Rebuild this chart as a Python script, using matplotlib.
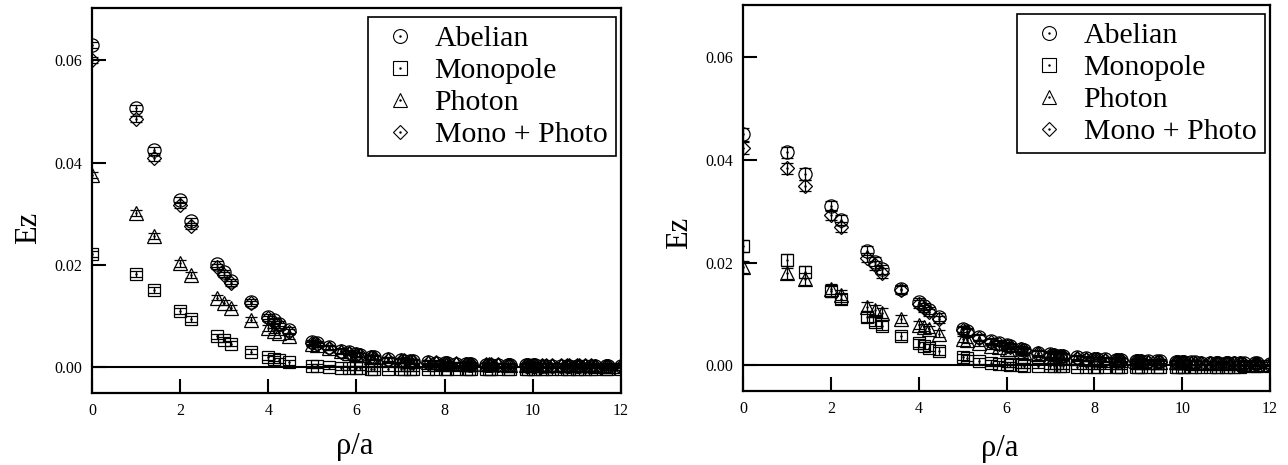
import matplotlib
matplotlib.use("Agg")
import matplotlib.pyplot as plt
from matplotlib.lines import Line2D

plt.rcParams['font.family'] = ['Liberation Serif', 'DejaVu Serif']
plt.rcParams['mathtext.fontset'] = 'stix'

# distances rho/a (2D lattice distances)
rho = [0, 1, 1.414, 2, 2.236, 2.828, 3, 3.162, 3.606, 4,
       4.123, 4.243, 4.472, 5, 5.099, 5.385, 5.657, 5.831, 6, 6.083,
       6.325, 6.403, 6.708, 7, 7.071, 7.211, 7.280, 7.616, 7.810, 8,
       8.062, 8.246, 8.485, 8.544, 8.602, 8.944, 9, 9.055, 9.220, 9.434,
       9.487, 9.849, 9.899, 10, 10.050, 10.198, 10.296, 10.440, 10.630, 10.770,
       10.817, 11, 11.045, 11.180, 11.314, 11.402, 11.662, 11.705, 12]

series_names = ["Abelian", "Monopole", "Photon", "Mono + Photo"]

# ---- left panel ----
left_abelian = [0.0630, 0.0506, 0.0424, 0.0327, 0.0285, 0.0202, 0.0186, 0.0168, 0.0128, 0.0099,
                0.0092, 0.0085, 0.0073, 0.0050, 0.0048, 0.0040, 0.0033, 0.0030, 0.0026, 0.0025,
                0.0021, 0.0020, 0.0016, 0.0014, 0.0013, 0.0012, 0.0012, 0.0010, 0.0009, 0.0008,
                0.0008, 0.0007, 0.0006, 0.0006, 0.0006, 0.0005, 0.0005, 0.0005, 0.0005, 0.0004,
                0.0004, 0.0004, 0.0004, 0.0004, 0.0004, 0.0003, 0.0003, 0.0003, 0.0003, 0.0003,
                0.0003, 0.0003, 0.0003, 0.0003, 0.0003, 0.0002, 0.0002, 0.0002, 0.0002]
left_monopole = [0.0222, 0.0182, 0.0152, 0.0110, 0.0094, 0.0061, 0.0054, 0.0046, 0.0031, 0.0020,
                 0.0017, 0.0014, 0.0010, 0.0003, 0.0003, 0.0001, -0.0001, -0.0001, -0.0002, -0.0002,
                 -0.0003, -0.0003, -0.0003, -0.0004, -0.0004, -0.0004, -0.0004, -0.0004, -0.0004, -0.0004,
                 -0.0004, -0.0004, -0.0004, -0.0004, -0.0004, -0.0004, -0.0004, -0.0004, -0.0004, -0.0004,
                 -0.0004, -0.0004, -0.0004, -0.0004, -0.0004, -0.0004, -0.0004, -0.0004, -0.0004, -0.0004,
                 -0.0004, -0.0004, -0.0004, -0.0004, -0.0004, -0.0004, -0.0003, -0.0003, -0.0003]
left_photon = [0.0376, 0.0301, 0.0256, 0.0203, 0.0181, 0.0136, 0.0126, 0.0117, 0.0093, 0.0077,
               0.0072, 0.0068, 0.0061, 0.0046, 0.0044, 0.0038, 0.0032, 0.0029, 0.0026, 0.0025,
               0.0021, 0.0020, 0.0017, 0.0015, 0.0014, 0.0013, 0.0013, 0.0011, 0.0010, 0.0009,
               0.0009, 0.0008, 0.0007, 0.0007, 0.0007, 0.0006, 0.0006, 0.0006, 0.0006, 0.0005,
               0.0005, 0.0005, 0.0005, 0.0005, 0.0005, 0.0004, 0.0004, 0.0004, 0.0004, 0.0004,
               0.0004, 0.0004, 0.0004, 0.0004, 0.0004, 0.0003, 0.0003, 0.0003, 0.0003]
left_monophoto = [0.0601, 0.0486, 0.0409, 0.0317, 0.0277, 0.0197, 0.0181, 0.0164, 0.0125, 0.0096,
                  0.0089, 0.0082, 0.0070, 0.0048, 0.0046, 0.0038, 0.0031, 0.0028, 0.0025, 0.0024,
                  0.0020, 0.0019, 0.0015, 0.0013, 0.0012, 0.0011, 0.0011, 0.0009, 0.0008, 0.0007,
                  0.0007, 0.0006, 0.0006, 0.0005, 0.0005, 0.0005, 0.0004, 0.0004, 0.0004, 0.0004,
                  0.0004, 0.0003, 0.0003, 0.0003, 0.0003, 0.0003, 0.0003, 0.0003, 0.0003, 0.0002,
                  0.0002, 0.0002, 0.0002, 0.0002, 0.0002, 0.0002, 0.0002, 0.0002, 0.0002]
left_err = [0.0006, 0.0006, 0.0006, 0.0006, 0.0006, 0.0005, 0.0005, 0.0005, 0.0005, 0.0005,
            0.0005, 0.0005, 0.0005, 0.0004, 0.0004, 0.0004, 0.0004, 0.0004, 0.0004, 0.0004,
            0.0004, 0.0004, 0.0004, 0.0004, 0.0004, 0.0004, 0.0004, 0.0004, 0.0004, 0.0004,
            0.0003, 0.0003, 0.0003, 0.0003, 0.0003, 0.0003, 0.0003, 0.0003, 0.0003, 0.0003,
            0.0003, 0.0003, 0.0003, 0.0003, 0.0003, 0.0003, 0.0003, 0.0003, 0.0003, 0.0003,
            0.0003, 0.0003, 0.0003, 0.0003, 0.0003, 0.0003, 0.0003, 0.0003, 0.0003]

# ---- right panel ----
right_abelian = [0.0450, 0.0415, 0.0373, 0.0310, 0.0283, 0.0223, 0.0202, 0.0187, 0.0149, 0.0124,
                 0.0115, 0.0107, 0.0094, 0.0071, 0.0066, 0.0056, 0.0048, 0.0044, 0.0040, 0.0038,
                 0.0032, 0.0030, 0.0025, 0.0022, 0.0021, 0.0019, 0.0019, 0.0016, 0.0014, 0.0013,
                 0.0013, 0.0012, 0.0011, 0.0011, 0.0011, 0.0009, 0.0009, 0.0009, 0.0008, 0.0008,
                 0.0008, 0.0007, 0.0007, 0.0006, 0.0006, 0.0006, 0.0006, 0.0005, 0.0005, 0.0005,
                 0.0005, 0.0005, 0.0005, 0.0005, 0.0004, 0.0004, 0.0004, 0.0004, 0.0002]
right_monopole = [0.0232, 0.0205, 0.0182, 0.0144, 0.0129, 0.0094, 0.0085, 0.0077, 0.0057, 0.0043,
                  0.0038, 0.0034, 0.0028, 0.0016, 0.0014, 0.0009, 0.0005, 0.0003, 0.0002, 0.0001,
                  0.0000, -0.0001, -0.0001, -0.0002, -0.0002, -0.0002, -0.0002, -0.0003, -0.0003, -0.0003,
                  -0.0003, -0.0003, -0.0003, -0.0003, -0.0003, -0.0003, -0.0003, -0.0003, -0.0003, -0.0003,
                  -0.0003, -0.0003, -0.0003, -0.0003, -0.0003, -0.0003, -0.0003, -0.0003, -0.0003, -0.0003,
                  -0.0003, -0.0003, -0.0003, -0.0003, -0.0003, -0.0002, -0.0002, -0.0002, -0.0002]
right_photon = [0.0191, 0.0179, 0.0168, 0.0148, 0.0137, 0.0114, 0.0108, 0.0102, 0.0090, 0.0078,
                0.0074, 0.0070, 0.0062, 0.0051, 0.0049, 0.0044, 0.0038, 0.0035, 0.0032, 0.0031,
                0.0027, 0.0026, 0.0022, 0.0019, 0.0018, 0.0017, 0.0017, 0.0014, 0.0013, 0.0012,
                0.0012, 0.0011, 0.0010, 0.0010, 0.0010, 0.0008, 0.0008, 0.0008, 0.0007, 0.0007,
                0.0007, 0.0006, 0.0006, 0.0006, 0.0006, 0.0005, 0.0005, 0.0005, 0.0005, 0.0004,
                0.0004, 0.0004, 0.0004, 0.0004, 0.0004, 0.0003, 0.0003, 0.0003, 0.0002]
right_monophoto = [0.0423, 0.0384, 0.0350, 0.0293, 0.0270, 0.0210, 0.0195, 0.0180, 0.0146, 0.0120,
                   0.0111, 0.0103, 0.0090, 0.0068, 0.0064, 0.0054, 0.0046, 0.0042, 0.0038, 0.0036,
                   0.0031, 0.0029, 0.0024, 0.0021, 0.0020, 0.0018, 0.0018, 0.0015, 0.0013, 0.0012,
                   0.0012, 0.0011, 0.0010, 0.0010, 0.0010, 0.0008, 0.0008, 0.0008, 0.0007, 0.0007,
                   0.0007, 0.0006, 0.0006, 0.0006, 0.0006, 0.0005, 0.0005, 0.0005, 0.0005, 0.0004,
                   0.0004, 0.0004, 0.0004, 0.0004, 0.0004, 0.0003, 0.0003, 0.0003, 0.0002]
right_err = [0.0012, 0.0011, 0.0011, 0.0010, 0.0010, 0.0009, 0.0009, 0.0009, 0.0008, 0.0008,
             0.0007, 0.0007, 0.0007, 0.0006, 0.0006, 0.0006, 0.0006, 0.0005, 0.0005, 0.0005,
             0.0005, 0.0005, 0.0005, 0.0005, 0.0005, 0.0005, 0.0005, 0.0004, 0.0004, 0.0004,
             0.0004, 0.0004, 0.0004, 0.0004, 0.0004, 0.0004, 0.0004, 0.0004, 0.0004, 0.0004,
             0.0004, 0.0004, 0.0004, 0.0004, 0.0004, 0.0004, 0.0004, 0.0004, 0.0004, 0.0004,
             0.0004, 0.0004, 0.0004, 0.0004, 0.0004, 0.0004, 0.0004, 0.0004, 0.0004]

x_ticks = [0, 2, 4, 6, 8, 10, 12]
y_ticks = [0.00, 0.02, 0.04, 0.06]

markers = ['o', 's', '^', 'D']
msizes = [9.5, 9, 9.5, 7]

fig = plt.figure(figsize=(12.88, 4.65), dpi=100)
ax1 = fig.add_axes([92/1288, 1-393/465, 529/1288, 385/465])
ax2 = fig.add_axes([743/1288, 1-391/465, 527/1288, 386/465])

panels = [
    (ax1, [left_abelian, left_monopole, left_photon, left_monophoto], left_err,
     (-0.12, 0.43), (0.497, -0.14)),
    (ax2, [right_abelian, right_monopole, right_photon, right_monophoto], right_err,
     (-0.12, 0.41), (0.488, -0.15)),
]

for ax, data, err, ylc, xlc in panels:
    ax.axhline(0.0, color='black', lw=1.5, zorder=1)
    for vals, mk, ms in zip(data, markers, msizes):
        ax.errorbar(rho, vals, yerr=err, fmt=mk, ms=ms, mfc='none', mec='black',
                    mew=0.9, ecolor='black', elinewidth=0.9, capsize=4.5, capthick=0.9,
                    zorder=3)
        ax.plot(rho, vals, ls='none', marker='.', ms=1.5, color='black', zorder=4)
    ax.set_xlim(0, 12)
    ax.set_ylim(-0.005, 0.0702)
    ax.set_xticks(x_ticks)
    ax.set_xticklabels([str(t) for t in x_ticks])
    ax.set_yticks(y_ticks)
    ax.set_yticklabels(['%.2f' % t for t in y_ticks])
    ax.tick_params(direction='in', length=10, width=1.5, labelsize=11.5, pad=7,
                   top=False, right=False)
    for sp in ax.spines.values():
        sp.set_linewidth(1.6)
    ax.set_ylabel('Ez', fontsize=22)
    ax.yaxis.set_label_coords(*ylc)
    ax.yaxis.label.set_va('center')
    ax.set_xlabel('ρ/a', fontsize=22)
    ax.xaxis.set_label_coords(*xlc)
    ax.xaxis.label.set_va('center')

    handles = []
    for mk, ms in zip(markers, msizes):
        h1 = Line2D([], [], ls='none', marker=mk, ms=ms + 0.5, mfc='none', mec='black', mew=0.8)
        h2 = Line2D([], [], ls='none', marker='.', ms=1.5, color='black')
        handles.append((h1, h2))
    leg = ax.legend(handles, series_names, loc='upper right', bbox_to_anchor=(0.99, 0.977),
                    borderaxespad=0, fontsize=21.5, frameon=True, fancybox=False,
                    edgecolor='black', framealpha=1, handlelength=1.55, handletextpad=0.4,
                    labelspacing=0.17, borderpad=0.28)
    leg.get_frame().set_linewidth(1.2)

fig.savefig('out.png', dpi=100)
